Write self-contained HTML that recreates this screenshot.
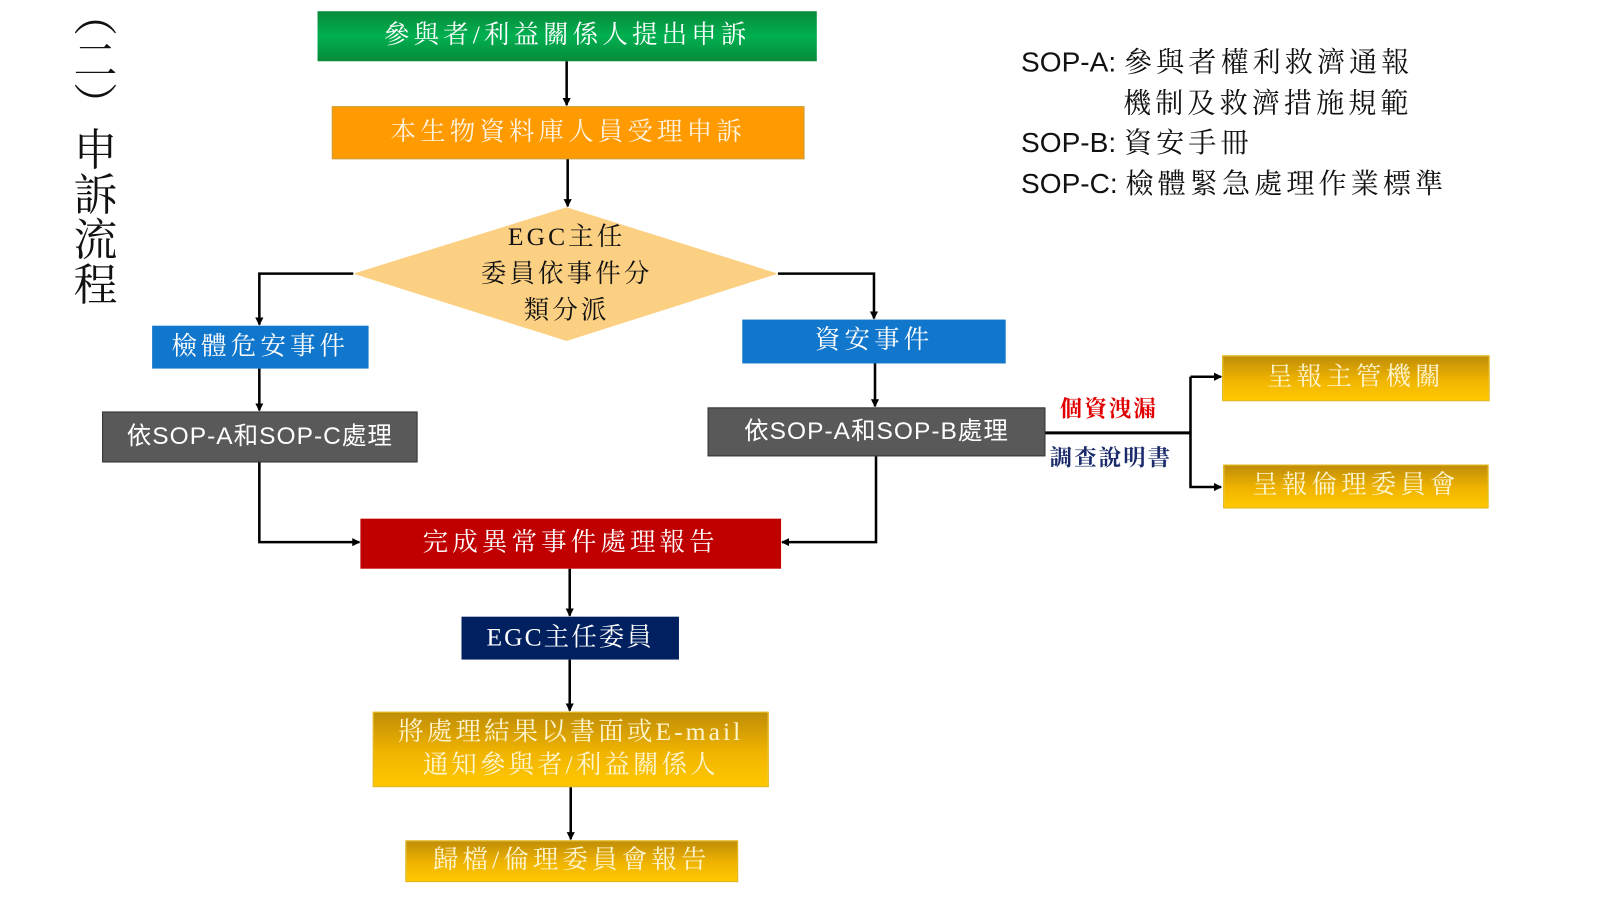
<!DOCTYPE html>
<html><head><meta charset="utf-8"><style>
body{margin:0;width:1600px;height:900px;background:#fff;position:relative;overflow:hidden;font-family:"Liberation Serif","Noto Serif CJK SC","Noto Sans CJK TC",serif}
#w{position:absolute;left:0;top:0;width:1560px;height:878px;transform:scale(1.021);transform-origin:0 0}
.b{position:absolute;display:flex;align-items:center;justify-content:center;color:#fff;font-size:25px;letter-spacing:4px;box-sizing:border-box;text-align:center;line-height:1.3}
.gold{background:linear-gradient(#c08d08,#f0b400 55%,#ffc800);border:1px solid #e0b000;color:#fff6d0}
.t{position:absolute;white-space:nowrap}
</style></head><body><div id="w">
<div class="t" style="left:63px;top:-8px;writing-mode:vertical-rl;font-size:43px;font-family:'Noto Serif CJK SC','Noto Sans CJK TC',serif;color:#111;letter-spacing:1px">（二）申訴流程</div>

<div class="b" style="left:311px;top:11px;width:489px;height:49px;background:linear-gradient(#078a3a,#00b050 50%,#078a3a)">參與者/利益關係人提出申訴</div>
<div class="b" style="left:325px;top:104px;width:463px;height:52px;background:#ff9a00;border:1px solid #c8a040;color:#fff3e0">本生物資料庫人員受理申訴</div>
<svg style="position:absolute;left:0;top:0" width="1560" height="878">
<defs><marker id="a" markerWidth="8" markerHeight="8" refX="7" refY="4" orient="auto" markerUnits="userSpaceOnUse"><path d="M0,0L8,4L0,8z" fill="#000"/></marker></defs>
<polygon points="555,203 762,268 555,334 346,268" fill="#fcd083"/>
<g stroke="#000" stroke-width="2.5" fill="none" marker-end="url(#a)">
<line x1="555" y1="60" x2="555" y2="103"/>
<line x1="556" y1="156" x2="556" y2="202"/>
<polyline points="346,268 254,268 254,318"/>
<polyline points="762,268 856,268 856,312"/>
<line x1="254" y1="361" x2="254" y2="402"/>
<line x1="857" y1="356" x2="857" y2="398"/>
<polyline points="254,453 254,531 352,531"/>
<polyline points="858,447 858,531 766,531"/>
<line x1="558" y1="557" x2="558" y2="603"/>
<line x1="558" y1="646" x2="558" y2="696"/>
<line x1="559" y1="771" x2="559" y2="822"/>
<polyline points="1166,369 1166,477 1196,477"/>
<line x1="1166" y1="369" x2="1196" y2="369"/>
</g>
<line x1="1024" y1="424" x2="1166" y2="424" stroke="#000" stroke-width="3"/>
</svg>
<div class="t" style="left:455px;top:215px;width:200px;text-align:center;font-size:25px;line-height:36px;color:#111;letter-spacing:3px">EGC主任<br>委員依事件分<br>類分派</div>
<div class="b" style="left:149px;top:319px;width:212px;height:42px;background:#1177cc">檢體危安事件</div>
<div class="b" style="left:727px;top:313px;width:258px;height:43px;background:#1177cc">資安事件</div>
<div class="b" style="left:100px;top:403px;width:309px;height:50px;background:#595959;border:1px solid #333;font-family:'Liberation Sans','Noto Sans CJK TC',sans-serif;letter-spacing:1px;font-size:24px">依SOP-A和SOP-C處理</div>
<div class="b" style="left:693px;top:399px;width:331px;height:48px;background:#595959;border:1px solid #333;font-family:'Liberation Sans','Noto Sans CJK TC',sans-serif;letter-spacing:1px;font-size:24px">依SOP-A和SOP-B處理</div>
<div class="t" style="left:1038px;top:384px;font-size:22px;font-weight:bold;color:#e00000;letter-spacing:2px">個資洩漏</div>
<div class="t" style="left:1028px;top:432px;font-size:22px;font-weight:bold;color:#1a2a6a;letter-spacing:2px">調查說明書</div>
<div class="b gold" style="left:1197px;top:348px;width:262px;height:45px">呈報主管機關</div>
<div class="b gold" style="left:1198px;top:455px;width:260px;height:43px">呈報倫理委員會</div>
<div class="b" style="left:353px;top:508px;width:412px;height:49px;background:#c00000">完成異常事件處理報告</div>
<div class="b" style="left:452px;top:604px;width:213px;height:42px;background:#002060;letter-spacing:2px">EGC主任委員</div>
<div class="b gold" style="left:365px;top:697px;width:388px;height:74px;letter-spacing:3px">將處理結果以書面或E-mail<br>通知參與者/利益關係人</div>
<div class="b gold" style="left:397px;top:823px;width:326px;height:41px">歸檔/倫理委員會報告</div>
<div class="t" style="left:1000px;top:40px;font-size:27.5px;line-height:37.5px;color:#111;font-family:'Liberation Sans','Noto Sans CJK TC',sans-serif">SOP-A: <span style="font-family:'Noto Serif CJK SC',serif;letter-spacing:4px">參與者權利救濟通報</span><br><span style="padding-left:100px;font-family:'Noto Serif CJK SC',serif;letter-spacing:4px">機制及救濟措施規範</span><br>SOP-B: <span style="font-family:'Noto Serif CJK SC',serif;letter-spacing:4px">資安手冊</span><br>SOP-C: <span style="font-family:'Noto Serif CJK SC',serif;letter-spacing:4px">檢體緊急處理作業標準</span></div>
</div></body></html>
